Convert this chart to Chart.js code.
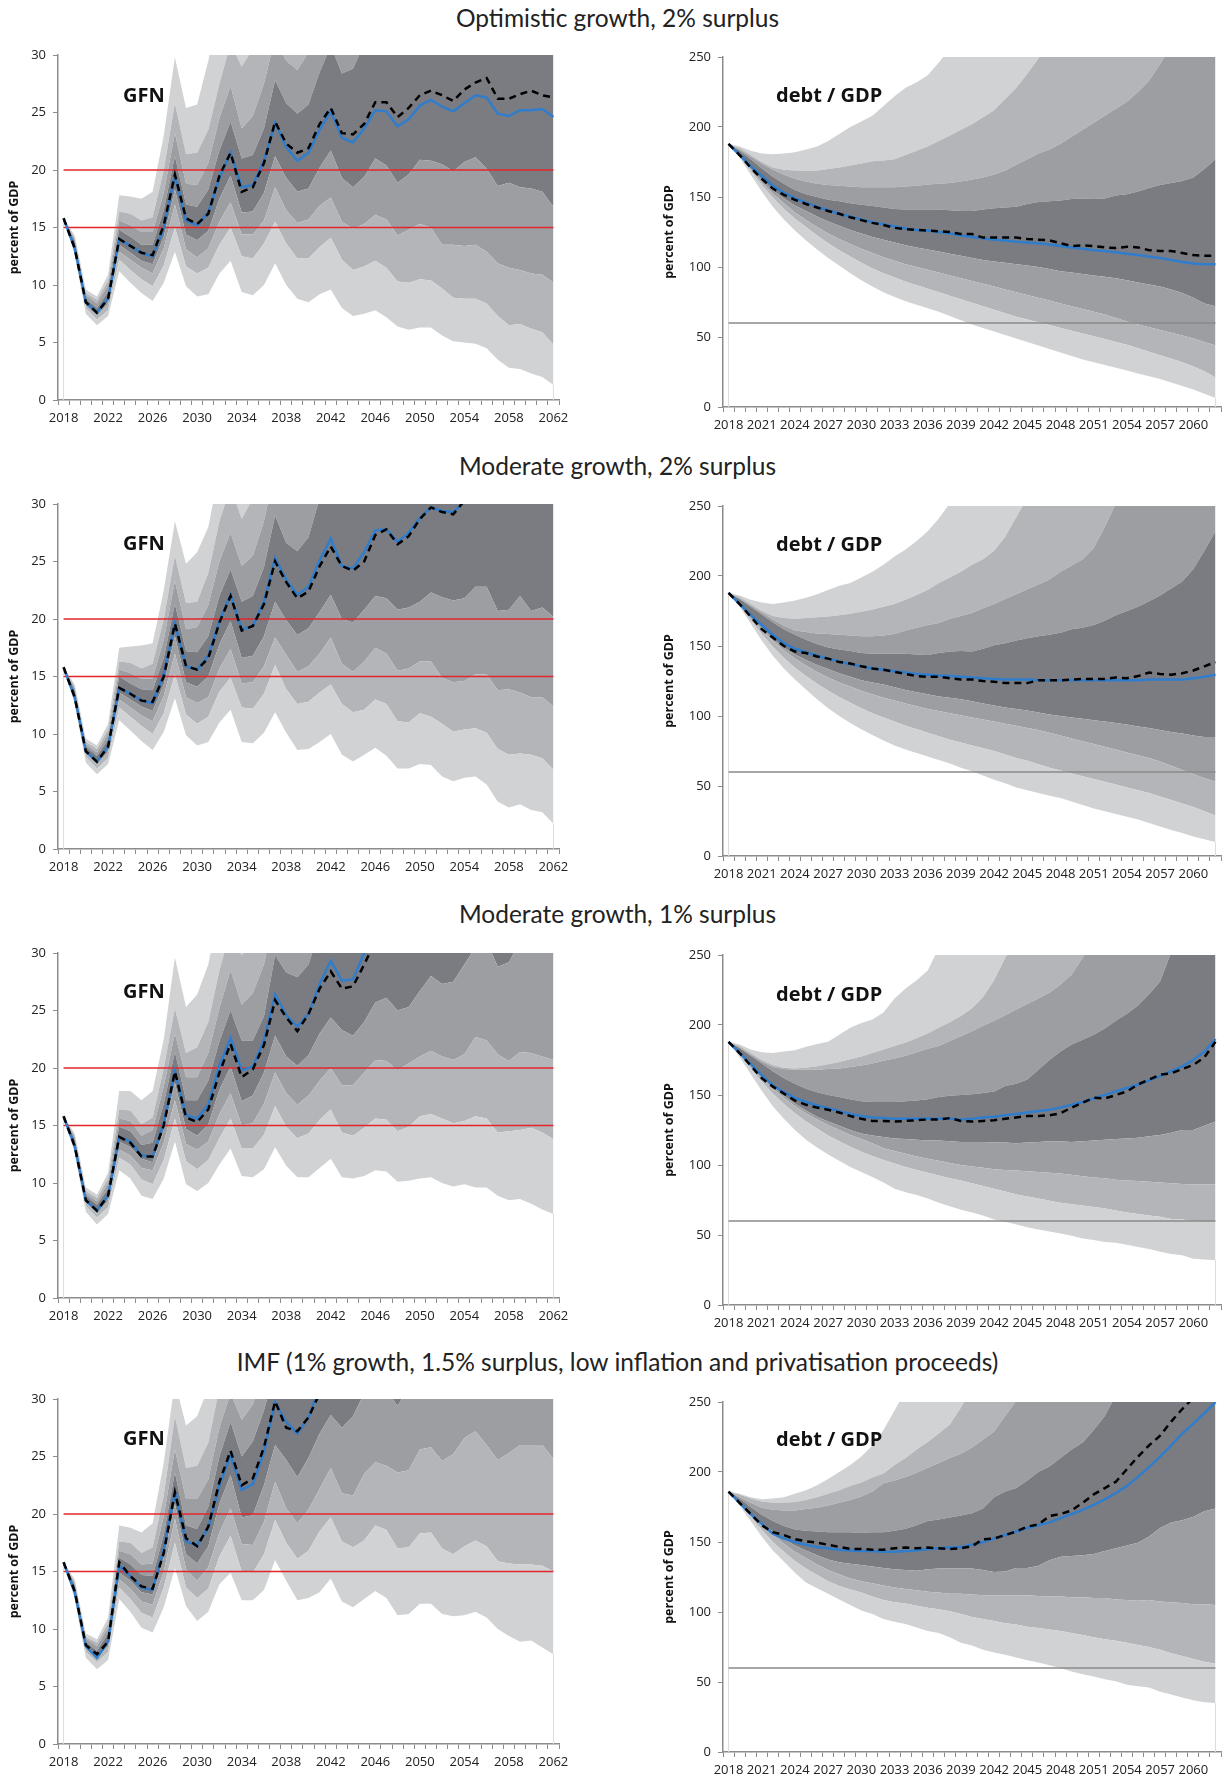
<!DOCTYPE html>
<html>
<head>
<meta charset="utf-8">
<script src="https://cdn.jsdelivr.net/npm/chart.js@4.4.1/dist/chart.umd.min.js"></script>
<style>
  html, body { margin: 0; padding: 0; background: #fff; }
  #page { position: relative; width: 1225px; height: 1778px; overflow: hidden; background: #fff; }
  .title { position: absolute; left: 5px; width: 1225px; text-align: center; font-family: 'Lato', sans-serif;
           font-size: 24.5px; color: #222; height: 30px; line-height: 30px; }
  .tag { position: absolute; font-family: 'Open Sans', sans-serif; font-weight: 700; font-size: 20px;
         color: #111; line-height: 24px; white-space: nowrap; }
  canvas { position: absolute; }
</style>
</head>
<body>
<div id="page">
  <div class="title" style="top:3px">Optimistic growth, 2% surplus</div>
  <div class="title" style="top:451px">Moderate growth, 2% surplus</div>
  <div class="title" style="top:899px">Moderate growth, 1% surplus</div>
  <div class="title" style="top:1347px">IMF (1% growth, 1.5% surplus, low inflation and privatisation proceeds)</div>

  <canvas id="gfn1" width="579" height="391" style="left:0;top:35px"></canvas>
  <canvas id="debt1" width="570" height="396" style="left:655px;top:37px"></canvas>
  <canvas id="gfn2" width="579" height="391" style="left:0;top:484px"></canvas>
  <canvas id="debt2" width="570" height="396" style="left:655px;top:486px"></canvas>
  <canvas id="gfn3" width="579" height="391" style="left:0;top:933px"></canvas>
  <canvas id="debt3" width="570" height="396" style="left:655px;top:935px"></canvas>
  <canvas id="gfn4" width="579" height="391" style="left:0;top:1379px"></canvas>
  <canvas id="debt4" width="570" height="396" style="left:655px;top:1382px"></canvas>

  <div class="tag" style="left:123px;top:83px">GFN</div>
  <div class="tag" style="left:776px;top:83px">debt / GDP</div>
  <div class="tag" style="left:123px;top:531px">GFN</div>
  <div class="tag" style="left:776px;top:532px">debt / GDP</div>
  <div class="tag" style="left:123px;top:979px">GFN</div>
  <div class="tag" style="left:776px;top:982px">debt / GDP</div>
  <div class="tag" style="left:123px;top:1426px">GFN</div>
  <div class="tag" style="left:776px;top:1427px">debt / GDP</div>
</div>

<script>
// 年
var years = [2018, 2019, 2020, 2021, 2022, 2023, 2024, 2025, 2026, 2027,
  2028, 2029, 2030, 2031, 2032, 2033, 2034, 2035, 2036, 2037,
  2038, 2039, 2040, 2041, 2042, 2043, 2044, 2045, 2046, 2047,
  2048, 2049, 2050, 2051, 2052, 2053, 2054, 2055, 2056, 2057,
  2058, 2059, 2060, 2061, 2062];

// 参照線
var gfnLimits = [15, 20];
var debtLimit = 60;

// ---------- Optimistic growth, 2% surplus : GFN ----------
var optGfnLine = [15.8, 13.2, 8.5, 7.6, 8.8,
  14.0, 13.4, 12.8, 12.5, 15.0,
  19.5, 15.6, 15.2, 16.3, 19.3,
  21.5, 18.5, 18.7, 20.8, 24.1,
  22.0, 20.8, 21.5, 23.5, 25.1,
  22.8, 22.4, 23.6, 25.2, 25.1,
  23.8, 24.4, 25.6, 26.1, 25.5,
  25.1, 25.8, 26.5, 26.3, 24.9,
  24.7, 25.2, 25.2, 25.3, 24.6];
var optGfnDash = [15.8, 13.2, 8.5, 7.6, 8.8,
  14.0, 13.4, 12.8, 12.6, 15.2,
  19.6, 15.8, 15.3, 16.2, 19.5,
  21.5, 18.1, 18.5, 20.6, 24.2,
  22.3, 21.5, 21.9, 24.0, 25.4,
  23.2, 23.1, 24.0, 25.9, 25.9,
  24.6, 25.4, 26.5, 26.9, 26.5,
  26.0, 27.0, 27.6, 28.0, 26.2,
  26.2, 26.6, 26.9, 26.5, 26.3];
var optGfn10 = [15.8, 12.6, 7.5, 6.5, 7.3,
  11.2, 10.2, 9.3, 8.6, 10.2,
  12.9, 9.9, 9.0, 9.2, 11.0,
  12.1, 9.4, 9.1, 10.0, 11.9,
  10.0, 8.8, 8.5, 9.2, 9.6,
  8.0, 7.3, 7.5, 7.8, 7.2,
  6.4, 6.1, 6.3, 6.3, 5.6,
  5.1, 5.0, 4.9, 4.5, 3.5,
  2.8, 2.7, 2.3, 2.0, 1.3];
var optGfn20 = [15.8, 13.0, 8.0, 7.0, 7.8,
  12.2, 11.3, 10.5, 9.9, 11.7,
  15.0, 11.6, 11.0, 11.5, 13.5,
  15.0, 12.5, 12.3, 13.6, 15.5,
  13.6, 12.3, 12.3, 13.3, 14.1,
  12.2, 11.3, 11.6, 12.1, 11.5,
  10.3, 10.2, 10.5, 10.4, 9.7,
  8.9, 8.8, 8.8, 8.4, 7.3,
  6.5, 6.6, 6.2, 5.9, 4.8];
var optGfn30 = [15.8, 13.2, 8.2, 7.3, 8.3,
  12.9, 12.2, 11.5, 11.0, 13.2,
  17.0, 13.1, 12.4, 13.2, 15.5,
  17.2, 14.4, 14.4, 15.6, 18.5,
  16.5, 15.4, 15.7, 16.9, 17.6,
  15.5, 14.9, 15.3, 16.1, 15.7,
  14.3, 14.8, 15.3, 15.0, 13.5,
  13.5, 13.4, 13.5, 12.9, 11.9,
  11.5, 11.3, 11.0, 10.9, 10.2];
var optGfn40 = [15.8, 13.4, 8.4, 7.5, 8.6,
  13.5, 12.8, 12.1, 11.8, 14.2,
  18.3, 14.4, 13.9, 14.7, 17.5,
  19.5, 16.3, 16.4, 18.0, 21.2,
  19.3, 18.1, 18.4, 20.2, 21.7,
  19.3, 18.5, 19.4, 21.0, 20.4,
  18.9, 19.6, 20.9, 20.8, 20.5,
  19.9, 20.7, 21.1, 20.1, 18.6,
  18.9, 18.5, 18.4, 18.1, 16.8];
var optGfn60 = [15.8, 13.8, 8.8, 8.0, 9.4,
  14.8, 14.2, 13.5, 13.5, 16.5,
  21.2, 17.0, 16.8, 18.3, 21.7,
  24.2, 21.0, 21.3, 23.6, 27.8,
  25.8, 24.9, 25.7, 28.5, 30.8,
  28.4, 28.8, 31.0, 32.5, 32.8,
  32.0, 33.0, 34.2, 34.8, 34.5,
  34.3, 35.0, 35.8, 35.4, 34.5,
  34.8, 35.2, 35.5, 35.6, 35.2];
var optGfn70 = [15.8, 14.0, 9.1, 8.4, 10.0,
  15.6, 15.2, 14.6, 14.6, 18.0,
  23.2, 18.8, 18.7, 20.6, 24.5,
  27.3, 23.6, 24.7, 27.5, 31.5,
  29.5, 28.7, 30.2, 33.0, 35.0,
  32.5, 32.8, 34.6, 36.5, 36.8,
  36.0, 37.0, 38.4, 39.0, 38.6,
  38.5, 39.3, 40.1, 39.8, 38.9,
  39.2, 39.6, 40.0, 40.2, 39.8];
var optGfn80 = [15.8, 14.1, 9.3, 8.7, 10.4,
  16.4, 16.2, 15.6, 15.9, 20.0,
  25.8, 21.4, 21.5, 23.5, 27.5,
  31.0, 29.0, 30.5, 33.0, 37.0,
  35.0, 34.5, 36.0, 38.5, 40.5,
  38.0, 38.5, 40.0, 42.0, 42.5,
  41.5, 42.5, 44.0, 44.5, 44.0,
  44.0, 45.0, 46.0, 45.5, 44.5,
  45.0, 45.5, 46.0, 46.2, 45.8];
var optGfn90 = [15.8, 14.3, 9.6, 9.0, 10.9,
  17.8, 17.7, 17.5, 18.1, 23.0,
  29.8, 25.4, 25.7, 29.5, 34.0,
  39.0, 36.0, 37.5, 40.0, 45.0,
  43.0, 42.0, 44.0, 47.0, 49.0,
  46.5, 47.0, 49.0, 51.0, 51.5,
  50.5, 51.5, 53.0, 54.0, 53.5,
  53.5, 54.5, 55.5, 55.0, 54.0,
  54.5, 55.0, 55.5, 56.0, 55.5];

// ---------- Optimistic growth, 2% surplus : debt / GDP ----------
var optDebtLine = [188, 180, 172, 165, 158,
  153, 149, 146, 143, 140.5,
  138, 136, 134, 132, 130.5,
  129, 127.5, 126.5, 126, 125,
  124, 122.5, 121.5, 120.5, 119.5,
  119, 118, 117.5, 117, 116,
  115, 114, 113, 112, 111.5,
  110.5, 109.5, 108.5, 107.5, 106.5,
  105, 103.5, 102.5, 102, 102];
var optDebtDash = [188, 180, 171, 163, 156,
  151.5, 148, 145, 142.5, 140,
  138, 135.5, 133.5, 131.5, 130,
  128, 127, 126.5, 126, 125.5,
  125, 123.5, 123.5, 121, 121,
  121, 121, 120, 119.5, 119,
  117, 115, 115.5, 115, 114,
  113.5, 114.5, 114, 112, 111.5,
  111.5, 110, 108.5, 108, 108];
var optDebt10 = [188, 178, 166, 154, 143,
  134, 126, 119, 112.5, 106.5,
  101, 95.5, 90.5, 86, 82,
  78.5, 75.5, 73, 70.5, 68,
  65, 62, 59, 56.5, 54,
  51.5, 49, 46.5, 44, 41.5,
  39, 36.5, 34, 32, 30,
  28, 26, 24, 22, 20,
  17.5, 15, 12.5, 9.5, 6.5];
var optDebt20 = [188, 178.5, 168.5, 158.5, 149.5,
  141.5, 134.5, 128.5, 122.5, 117,
  112, 107.5, 103, 99, 95.5,
  92.5, 89.5, 87, 84.5, 82,
  79.5, 77, 74.5, 72, 69.5,
  67, 64.5, 62.5, 60.5, 58.5,
  56.5, 54.5, 52.5, 50.5, 48.5,
  46.5, 44.5, 42, 39.5, 37,
  34.5, 32, 29, 25.5, 21];
var optDebt30 = [188, 179, 169.5, 160.5, 152.5,
  145.5, 139, 133.5, 128.5, 124,
  120, 116.5, 113, 110, 107,
  104.5, 102, 100, 98, 96,
  94, 92, 90, 88, 86,
  84, 82, 80, 78, 76,
  74, 72, 70, 68, 66,
  63.5, 61, 59, 57, 55,
  53, 51, 49, 46.5, 44];
var optDebt40 = [188, 179.5, 170.5, 162.5, 155,
  149, 144, 140, 136, 132.5,
  129.5, 126.5, 124, 121.5, 119.5,
  117.5, 115.5, 114, 112.5, 111,
  109.5, 108, 106.5, 105, 104,
  103, 102, 101, 100, 98.5,
  97, 96, 95, 94, 93,
  92, 90.5, 89, 87.5, 86,
  84, 81.5, 78, 74, 72];
var optDebt60 = [188, 183, 177, 170.5, 164.5,
  159.5, 155, 152, 150, 148,
  147, 145.5, 144.5, 143.5, 142.5,
  141.5, 141, 141, 141, 141,
  140.5, 140, 140, 141, 142,
  142.5, 143, 145, 146.5, 147,
  147.5, 148.5, 149, 148.5, 149,
  151, 152, 154, 156.5, 158.5,
  160, 161.5, 164, 170, 177];
var optDebt70 = [188, 184, 179, 174, 169.5,
  166, 163, 161, 159.5, 158.5,
  158, 157.5, 157, 157, 157,
  157, 157.5, 158, 159, 159.5,
  160, 161, 162.5, 164, 166,
  169, 173, 177, 181, 184,
  188, 193, 198, 203, 208,
  213, 218, 225, 233, 245,
  258, 272, 287, 305, 325];
var optDebt80 = [188, 185, 180, 175, 171,
  169.5, 169, 168.5, 169, 170,
  171, 172.5, 174, 175.5, 176,
  177, 180, 183, 186, 190,
  194, 198, 202, 207, 212,
  220, 228, 238, 249, 260,
  272, 285, 298, 312, 326,
  340, 354, 368, 382, 396,
  410, 424, 438, 452, 466];
var optDebt90 = [188, 186, 183, 181, 180.5,
  181, 182, 184, 186, 190,
  195, 200, 204, 208, 215,
  222, 228, 232, 237, 246,
  256, 266, 278, 290, 302,
  315, 328, 342, 356, 370,
  385, 400, 415, 430, 445,
  460, 475, 490, 505, 520,
  535, 550, 565, 580, 595];

// ---------- Moderate growth, 2% surplus : GFN ----------
var mod2GfnLine = [15.8, 13.2, 8.5, 7.6, 8.9,
  14.0, 13.5, 12.9, 12.7, 15.2,
  19.6, 15.9, 15.6, 16.8, 19.8,
  22.1, 19.1, 19.4, 21.5, 25.3,
  23.4, 22.1, 22.8, 25.1, 27.0,
  24.6, 24.4, 25.8, 27.7, 27.8,
  26.7, 27.5, 28.8, 29.7, 29.4,
  29.3, 30.2, 31.5, 32.2, 31.6,
  31.9, 32.6, 33.0, 33.3, 33.0];
var mod2GfnDash = [15.8, 13.2, 8.5, 7.6, 8.9,
  14.0, 13.5, 12.9, 12.8, 15.0,
  19.6, 15.9, 15.6, 16.6, 19.7,
  22.0, 19.0, 19.4, 21.3, 25.0,
  23.2, 21.8, 22.4, 24.6, 26.3,
  24.6, 24.2, 25.0, 27.3, 27.8,
  26.5, 27.2, 28.7, 29.7, 29.3,
  29.1, 30.3, 31.4, 32.0, 31.4,
  31.8, 32.4, 32.9, 33.2, 32.8];
var mod2Gfn10 = [15.8, 12.6, 7.5, 6.5, 7.4,
  11.2, 10.3, 9.4, 8.6, 10.2,
  13.1, 9.9, 9.0, 9.3, 11.0,
  12.1, 9.3, 9.2, 10.1, 11.9,
  10.1, 8.6, 8.7, 9.3, 10.0,
  8.2, 7.6, 8.2, 8.8, 8.1,
  7.0, 7.0, 7.4, 7.3, 6.3,
  5.9, 6.2, 6.3, 5.6, 4.1,
  3.6, 3.9, 3.4, 3.2, 2.2];
var mod2Gfn20 = [15.8, 13.0, 8.0, 7.0, 7.9,
  12.3, 11.5, 10.7, 10.0, 11.8,
  15.2, 11.7, 10.9, 11.5, 13.7,
  14.9, 12.3, 12.2, 13.5, 16.0,
  13.9, 12.6, 12.8, 13.6, 14.3,
  12.6, 11.9, 12.1, 13.0, 12.6,
  11.1, 11.0, 11.8, 11.5, 10.9,
  10.2, 10.4, 10.5, 10.1, 8.7,
  8.2, 8.3, 8.2, 7.9, 6.9];
var mod2Gfn30 = [15.8, 13.2, 8.3, 7.3, 8.4,
  13.0, 12.3, 11.6, 11.1, 13.3,
  17.0, 13.2, 12.7, 13.2, 15.7,
  17.4, 14.4, 14.5, 15.9, 18.4,
  16.9, 15.4, 15.9, 17.0, 18.4,
  16.1, 15.4, 16.3, 17.5, 17.0,
  15.5, 15.7, 16.3, 16.3, 14.9,
  14.5, 14.6, 15.2, 15.2, 13.8,
  13.9, 13.6, 13.2, 13.2, 12.4];
var mod2Gfn40 = [15.8, 13.4, 8.5, 7.6, 8.8,
  13.6, 13.0, 12.4, 12.0, 14.3,
  18.5, 14.5, 14.1, 15.0, 17.8,
  19.8, 16.6, 16.8, 18.5, 21.5,
  19.9, 18.6, 19.2, 20.6, 22.1,
  20.0, 19.7, 20.8, 22.0, 21.8,
  20.8, 21.0, 21.5, 22.3, 21.9,
  21.6, 21.8, 22.8, 22.8, 20.7,
  20.8, 22.0, 20.7, 21.0, 20.2];
var mod2Gfn60 = [15.8, 13.8, 8.9, 8.1, 9.5,
  15.0, 14.4, 13.9, 13.8, 16.6,
  21.3, 17.2, 17.1, 18.5, 22.0,
  24.3, 21.5, 22.0, 24.5, 29.0,
  26.6, 25.9, 27.1, 30.5, 32.5,
  31.0, 31.5, 33.0, 35.0, 35.5,
  34.5, 35.5, 37.0, 38.0, 37.5,
  37.5, 38.5, 39.5, 39.0, 38.0,
  38.5, 39.0, 39.5, 39.8, 39.5];
var mod2Gfn70 = [15.8, 14.0, 9.1, 8.4, 10.0,
  15.6, 15.3, 14.8, 14.8, 18.2,
  23.3, 19.1, 19.3, 21.2, 25.0,
  27.5, 24.6, 25.5, 28.5, 33.0,
  31.0, 30.5, 32.0, 35.5, 37.5,
  36.0, 36.5, 38.0, 40.0, 40.5,
  39.5, 40.5, 42.0, 43.0, 42.5,
  42.5, 43.5, 44.5, 44.0, 43.0,
  43.5, 44.0, 44.5, 44.8, 44.5];
var mod2Gfn80 = [15.8, 14.1, 9.3, 8.7, 10.4,
  16.3, 16.2, 15.7, 16.1, 20.0,
  25.5, 21.4, 21.5, 24.0, 28.5,
  31.5, 28.7, 30.5, 34.0, 38.5,
  36.5, 36.0, 37.5, 41.0, 43.0,
  41.5, 42.0, 43.5, 45.5, 46.0,
  45.0, 46.0, 47.5, 48.5, 48.0,
  48.0, 49.0, 50.0, 49.5, 48.5,
  49.0, 49.5, 50.0, 50.3, 50.0];
var mod2Gfn90 = [15.8, 14.3, 9.6, 9.0, 10.9,
  17.5, 17.6, 17.7, 17.9, 22.5,
  28.5, 24.8, 25.8, 28.0, 33.0,
  37.0, 35.0, 36.5, 40.0, 44.5,
  42.5, 42.0, 43.5, 47.0, 49.0,
  47.5, 48.0, 49.5, 51.5, 52.0,
  51.0, 52.0, 53.5, 54.5, 54.0,
  54.0, 55.0, 56.0, 55.5, 54.5,
  55.0, 55.5, 56.0, 56.3, 56.0];

// ---------- Moderate growth, 2% surplus : debt / GDP ----------
var mod2DebtLine = [188, 180, 172, 165, 158,
  152, 148, 145.5, 143, 141,
  139, 137, 135.5, 134, 133,
  132, 131, 130, 129.5, 129,
  128.5, 128, 127.5, 127, 126.5,
  126, 126, 126, 125.5, 125.5,
  125.5, 125.5, 125.5, 125.5, 125.5,
  125.5, 125.5, 125.5, 126, 126,
  126, 126, 127, 128, 129.5];
var mod2DebtDash = [188, 180, 171, 162, 156,
  150, 146, 145, 142.5, 141,
  138.5, 137.5, 135.5, 134, 133,
  131.5, 130, 128.5, 128, 128,
  127, 126, 126, 125, 124.5,
  123.5, 123.5, 123.5, 125.5, 125.5,
  125.5, 126, 126.5, 126.5, 126.5,
  127.5, 127, 128.5, 131, 130,
  129.5, 130.5, 132.5, 135.5, 138.5];
var mod2Debt10 = [188, 178, 166, 154, 143,
  134, 126, 119, 112, 105.5,
  100, 95, 90.5, 86.5, 82.5,
  79, 76, 73.5, 71, 68.5,
  66, 63, 60.5, 57.5, 54.5,
  52, 49, 47, 45, 43,
  41.5, 39, 36.5, 34, 32,
  30, 28, 26, 23.5, 21,
  18.5, 16.5, 14, 12, 10];
var mod2Debt20 = [188, 178.5, 168.5, 158.5, 149.5,
  141.5, 134.5, 128.5, 123, 118,
  113.5, 109.5, 105.5, 102, 99,
  96, 93, 90.5, 88, 85.5,
  83, 81, 79, 77, 75,
  72.5, 70, 68, 65.5, 63,
  61, 59, 57, 55, 53,
  51, 49, 47, 45, 42.5,
  40, 37.5, 35, 32, 29];
var mod2Debt30 = [188, 179, 170, 161.5, 154,
  147, 141, 136, 131.5, 127.5,
  124, 121, 118, 115.5, 113,
  111, 109, 107, 105, 103.5,
  102, 100.5, 99, 97.5, 96,
  94.5, 93, 91.5, 90, 88,
  86, 84, 82, 80, 78,
  76, 74, 72, 70, 67.5,
  64.5, 61.5, 58.5, 55.5, 53];
var mod2Debt40 = [188, 179.5, 171.5, 163.5, 155,
  149, 144, 140, 136.5, 133.5,
  130.5, 128, 125.5, 124, 122.5,
  120.5, 118.5, 117, 115.5, 114,
  113, 112, 110.5, 109, 107.5,
  106, 105, 104, 102.5, 101,
  100, 99, 98, 97, 96,
  95, 94, 92.5, 91.5, 90,
  88.5, 87.5, 86, 85, 85];
var mod2Debt60 = [188, 183.5, 178, 172.5, 167,
  162, 158, 154.5, 151.5, 149,
  147.5, 146.5, 145, 144.5, 144.5,
  144.5, 144.5, 144, 143.5, 145,
  146, 146.5, 146, 148, 150.5,
  152, 154, 155.5, 157, 158,
  159.5, 162, 163, 165, 168,
  172, 175, 178, 182, 186,
  191, 196, 205, 218, 232];
var mod2Debt70 = [188, 184, 179, 174, 169,
  164.5, 161, 160, 159, 158.5,
  158, 157.5, 157, 157, 157.5,
  158.5, 161, 163, 165, 166.5,
  169.5, 171.5, 173.5, 177, 180,
  183.5, 187, 190.5, 194, 197.5,
  203, 207.5, 212, 220, 235,
  252, 268, 285, 300, 318,
  335, 355, 375, 395, 415];
var mod2Debt80 = [188, 185, 180, 175, 171.5,
  170, 169.5, 170, 170.5, 171,
  172, 173, 174.5, 176, 178,
  180, 183, 186.5, 190, 195,
  199, 203, 208, 212, 218,
  228, 242, 256, 270, 285,
  300, 315, 330, 345, 360,
  375, 390, 405, 420, 435,
  450, 465, 480, 495, 510];
var mod2Debt90 = [188, 186, 183, 181, 180,
  181, 182.5, 184.5, 187, 190,
  193, 195, 199, 203, 208,
  214, 219, 225, 232, 241,
  252, 264, 278, 292, 306,
  320, 335, 350, 365, 380,
  395, 410, 425, 440, 455,
  470, 485, 500, 515, 530,
  545, 560, 575, 590, 605];

// ---------- Moderate growth, 1% surplus : GFN ----------
var mod1GfnLine = [15.8, 13.2, 8.5, 7.6, 8.9,
  14.0, 13.6, 12.4, 12.3, 15.2,
  19.7, 15.9, 15.6, 16.8, 20.2,
  22.6, 19.8, 20.1, 22.4, 26.4,
  24.6, 23.6, 24.7, 27.3, 29.3,
  27.6, 27.7, 30.0, 32.0, 32.5,
  32.0, 32.8, 34.0, 35.0, 34.6,
  34.5, 35.5, 36.8, 37.0, 36.2,
  36.5, 37.4, 38.0, 38.4, 38.2];
var mod1GfnDash = [15.8, 13.2, 8.5, 7.6, 8.9,
  14.0, 13.5, 12.3, 12.3, 15.0,
  19.7, 15.7, 15.3, 16.4, 19.6,
  22.1, 19.2, 19.9, 22.0, 25.9,
  24.4, 23.2, 24.7, 26.9, 28.4,
  26.9, 27.1, 29.0, 31.0, 31.6,
  31.0, 31.8, 33.0, 34.0, 33.6,
  33.5, 34.5, 35.8, 36.0, 35.2,
  35.5, 36.4, 37.0, 37.4, 37.2];
var mod1Gfn10 = [15.8, 12.6, 7.5, 6.4, 7.3,
  11.1, 10.4, 8.9, 8.6, 10.4,
  13.6, 9.9, 9.3, 10.0, 11.6,
  13.0, 10.6, 10.5, 11.2, 13.1,
  11.5, 10.5, 10.5, 11.3, 12.1,
  10.5, 10.4, 10.6, 11.1, 11.0,
  10.1, 10.2, 10.4, 10.5, 10.0,
  9.7, 9.9, 9.6, 9.6, 8.9,
  8.5, 8.6, 8.2, 7.7, 7.3];
var mod1Gfn20 = [15.8, 13.0, 8.0, 7.0, 7.9,
  12.2, 11.6, 10.3, 9.9, 12.0,
  15.6, 11.9, 11.2, 12.0, 13.9,
  15.6, 13.0, 13.0, 14.2, 16.7,
  14.9, 13.9, 14.3, 15.5, 16.4,
  14.4, 14.1, 14.8, 15.6, 15.5,
  14.5, 14.9, 15.8, 16.0, 15.6,
  15.2, 15.4, 15.8, 15.6, 14.4,
  14.5, 14.6, 14.8, 14.4, 13.8];
var mod1Gfn30 = [15.8, 13.2, 8.3, 7.3, 8.4,
  12.9, 12.4, 11.3, 11.1, 13.5,
  17.2, 13.4, 12.9, 13.6, 16.0,
  17.8, 15.0, 15.2, 16.9, 19.6,
  17.8, 16.8, 17.6, 18.9, 20.0,
  18.5, 18.5, 19.6, 20.7, 20.6,
  19.8, 20.4, 21.0, 21.5, 21.0,
  20.7, 21.2, 22.7, 22.4, 21.2,
  20.6, 21.4, 21.3, 21.0, 20.7];
var mod1Gfn40 = [15.8, 13.4, 8.5, 7.6, 8.8,
  13.6, 13.1, 12.1, 11.8, 14.6,
  18.7, 14.7, 14.1, 15.1, 18.1,
  20.1, 17.1, 17.6, 19.6, 22.8,
  21.0, 20.2, 21.1, 23.0, 24.4,
  23.3, 22.8, 24.0, 25.7, 26.1,
  25.0, 25.3, 26.7, 28.0, 27.3,
  27.5, 29.0, 30.5, 31.0, 28.8,
  29.2, 31.0, 31.2, 31.5, 31.0];
var mod1Gfn60 = [15.8, 13.8, 8.9, 8.1, 9.5,
  14.9, 14.5, 13.3, 13.5, 16.9,
  21.4, 17.2, 17.2, 18.9, 22.3,
  25.0, 22.4, 22.4, 24.5, 29.8,
  28.3, 27.9, 29.0, 32.0, 33.5,
  32.5, 33.0, 34.5, 36.5, 37.0,
  36.0, 37.0, 38.5, 39.5, 39.0,
  39.0, 40.0, 41.5, 41.0, 40.0,
  40.5, 41.0, 41.5, 42.0, 41.5];
var mod1Gfn70 = [15.8, 14.0, 9.1, 8.4, 10.0,
  15.6, 15.4, 14.1, 14.6, 18.4,
  23.0, 19.2, 19.2, 21.3, 25.2,
  28.5, 25.5, 26.5, 29.0, 33.5,
  32.0, 31.5, 33.0, 36.5, 38.0,
  37.0, 37.5, 39.0, 41.0, 41.5,
  40.5, 41.5, 43.0, 44.0, 43.5,
  43.5, 44.5, 46.0, 45.5, 44.5,
  45.0, 45.5, 46.0, 46.5, 46.0];
var mod1Gfn80 = [15.8, 14.1, 9.3, 8.7, 10.4,
  16.4, 16.3, 15.1, 15.7, 20.0,
  25.2, 21.3, 21.8, 24.0, 28.5,
  32.0, 29.8, 31.0, 34.5, 39.0,
  37.5, 37.0, 38.5, 42.0, 43.5,
  42.5, 43.0, 44.5, 46.5, 47.0,
  46.0, 47.0, 48.5, 49.5, 49.0,
  49.0, 50.0, 51.5, 51.0, 50.0,
  50.5, 51.0, 51.5, 52.0, 51.5];
var mod1Gfn90 = [15.8, 14.3, 9.6, 9.0, 10.9,
  18.0, 18.0, 17.2, 18.0, 22.5,
  29.6, 25.3, 26.4, 29.0, 34.0,
  38.0, 36.5, 38.0, 41.0, 45.5,
  44.0, 43.5, 45.0, 48.5, 50.0,
  49.0, 49.5, 51.0, 53.0, 53.5,
  52.5, 53.5, 55.0, 56.0, 55.5,
  55.5, 56.5, 58.0, 57.5, 56.5,
  57.0, 57.5, 58.0, 58.5, 58.0];

// ---------- Moderate growth, 1% surplus : debt / GDP ----------
var mod1DebtLine = [188, 180, 172, 164, 157,
  152, 148, 145, 142.5, 140.5,
  138.5, 136.5, 135, 134, 133.5,
  133, 133, 133, 133, 133,
  133, 132.5, 133, 134, 134.5,
  135.5, 136.5, 137.5, 138.5, 139.5,
  141, 143, 145, 147.5, 150,
  152.5, 155, 157.5, 160.5, 163.5,
  167, 170.5, 175, 181, 190];
var mod1DebtDash = [188, 180, 171, 162, 156,
  151, 146, 143, 141, 139.5,
  137.5, 135, 133, 131.5, 131.5,
  131, 131.5, 132, 132.5, 132.5,
  133.5, 131.5, 131, 131.5, 132,
  133, 134, 135, 135, 135.5,
  137, 141, 144.5, 148, 147.5,
  150, 152.5, 157.5, 161, 164.5,
  165.5, 168.5, 171.5, 177, 188];
var mod1Debt10 = [188, 177, 165, 153, 142,
  133, 125, 118, 112.5, 107.5,
  103, 98.5, 95, 91.5, 87.5,
  83, 80.5, 78.5, 76, 73,
  70.5, 68, 66, 64, 61,
  59.5, 57.5, 55.5, 54, 52.5,
  51, 49.5, 47.5, 46.5, 45,
  44.5, 43, 41.5, 40, 38,
  36.5, 35.5, 33, 32.5, 32];
var mod1Debt20 = [188, 178.5, 169, 159.5, 151,
  143.5, 137, 131, 126, 121,
  117, 113, 109.5, 106.5, 103.5,
  101, 98.5, 96.5, 94.5, 92.5,
  90.5, 89, 87, 85, 83,
  81, 79, 77.5, 76, 74.5,
  73, 72, 71, 70, 69,
  67.5, 66, 65, 64, 63,
  61.5, 61, 60, 59.5, 59.5];
var mod1Debt30 = [188, 179, 170.5, 162, 154.5,
  148, 142, 137, 132.5, 128.5,
  125, 121.5, 118.5, 115.5, 112,
  110, 108, 106, 104.5, 103,
  101.5, 100, 99, 98, 97,
  96.5, 96, 95.5, 95, 94.5,
  94, 93, 92, 91, 90.5,
  89.5, 89, 88.5, 88, 87.5,
  87, 86.5, 86, 86, 86];
var mod1Debt40 = [188, 179.5, 171.5, 163, 156,
  149.5, 144, 139, 134.5, 131,
  128, 125, 122.5, 121, 120,
  119, 118.5, 118, 117.5, 117.5,
  117, 116.5, 116.5, 116.5, 116,
  116, 115.5, 116, 116.5, 117,
  117, 116.5, 117, 117.5, 118,
  118.5, 119, 119.5, 120.5, 121.5,
  123, 125, 125, 128, 131];
var mod1Debt60 = [188, 183.5, 178, 172.5, 167,
  162, 158, 154.5, 152, 150,
  148.5, 147, 145.5, 145, 145,
  145, 145.5, 146, 147, 148.5,
  149.5, 150, 150.5, 151.5, 152.5,
  156.5, 158, 161, 168, 175,
  181, 186, 189.5, 193, 197.5,
  203, 208, 214, 222, 231,
  252, 268, 285, 300, 320];
var mod1Debt70 = [188, 184, 179, 174, 170,
  168.5, 168, 168, 168, 168.5,
  169, 170, 171, 172.5, 174.5,
  176, 178, 180.5, 183, 185,
  188.5, 192, 195.5, 199.5, 203,
  207, 211, 215, 219, 223,
  229, 236, 248, 262, 276,
  290, 305, 320, 335, 350,
  365, 380, 395, 410, 425];
var mod1Debt80 = [188, 185, 180, 175, 171.5,
  169.5, 169, 169.5, 170.5, 172,
  173.5, 175.5, 177.5, 180, 182.5,
  185, 187.5, 190.5, 194, 198,
  202, 206.5, 212, 220, 232,
  248, 262, 276, 290, 305,
  320, 335, 350, 365, 380,
  395, 410, 425, 440, 455,
  470, 485, 500, 515, 530];
var mod1Debt90 = [188, 186, 182.5, 180.5, 180,
  181, 182, 184.5, 186.5, 188,
  193, 198, 201.5, 204, 209,
  219, 226, 232, 239, 255,
  268, 282, 296, 310, 325,
  340, 355, 370, 385, 400,
  415, 430, 445, 460, 475,
  490, 505, 520, 535, 550,
  565, 580, 595, 610, 625];

// ---------- IMF : GFN ----------
var imfGfnLine = [15.8, 13.2, 8.5, 7.5, 8.9,
  15.5, 14.6, 13.6, 13.4, 16.9,
  21.9, 17.6, 17.3, 18.8, 22.5,
  25.1, 22.1, 22.6, 25.4, 29.7,
  28.0, 27.0, 28.4, 31.0, 32.5,
  31.5, 32.0, 33.5, 35.5, 36.0,
  35.0, 36.0, 37.5, 38.5, 38.0,
  38.0, 39.0, 40.5, 40.0, 39.0,
  39.5, 40.0, 40.5, 41.0, 40.5];
var imfGfnDash = [15.8, 13.3, 8.6, 7.8, 8.9,
  15.8, 14.6, 13.7, 13.5, 16.6,
  21.9, 17.9, 17.2, 18.9, 22.8,
  25.5, 22.5, 23.1, 25.8, 29.8,
  27.5, 27.2, 28.4, 30.5, 32.0,
  31.0, 31.5, 33.0, 35.0, 35.5,
  34.5, 35.5, 37.0, 38.0, 37.5,
  37.5, 38.5, 40.0, 39.5, 38.5,
  39.0, 39.5, 40.0, 40.5, 40.0];
var imfGfn10 = [15.8, 12.6, 7.5, 6.5, 7.3,
  12.6, 11.5, 10.1, 9.7, 11.9,
  15.3, 12.0, 10.7, 11.5, 13.9,
  14.9, 12.5, 12.5, 13.4, 16.0,
  14.2, 12.5, 12.7, 13.2, 14.4,
  12.4, 11.9, 12.6, 13.3, 12.7,
  11.2, 11.3, 12.2, 12.2, 11.3,
  11.1, 11.2, 11.5, 11.0, 10.0,
  9.4, 8.9, 9.0, 8.4, 7.8];
var imfGfn20 = [15.8, 13.0, 8.0, 7.1, 8.0,
  13.6, 12.6, 11.4, 11.0, 13.6,
  17.5, 13.6, 12.7, 13.5, 16.3,
  18.1, 15.0, 14.9, 16.5, 19.5,
  17.5, 16.1, 16.8, 18.5, 19.7,
  17.6, 17.1, 17.7, 19.0, 18.6,
  17.0, 17.1, 18.3, 18.4, 17.0,
  16.5, 17.2, 17.7, 17.2, 15.9,
  15.7, 15.6, 15.6, 15.5, 15.0];
var imfGfn30 = [15.8, 13.2, 8.3, 7.4, 8.5,
  14.3, 13.5, 12.4, 12.1, 15.0,
  19.6, 15.2, 14.2, 15.4, 18.4,
  20.5, 17.4, 17.3, 19.3, 22.8,
  20.5, 19.2, 20.4, 22.2, 24.0,
  21.8, 21.6, 23.5, 24.5, 24.2,
  23.6, 23.8, 25.6, 25.8, 24.6,
  25.2, 26.6, 27.2, 26.0, 24.7,
  25.3, 26.0, 26.0, 26.0, 24.8];
var imfGfn40 = [15.8, 13.4, 8.5, 7.7, 8.9,
  14.9, 14.2, 13.2, 13.0, 16.2,
  20.9, 16.5, 15.7, 17.2, 20.9,
  23.4, 19.7, 19.9, 22.5, 26.0,
  24.7, 23.2, 24.9, 27.0, 28.6,
  27.5, 28.5, 30.5, 31.5, 30.8,
  29.4, 31.0, 32.0, 32.5, 32.5,
  32.5, 33.0, 33.5, 33.5, 33.0,
  33.0, 33.5, 33.5, 33.8, 33.5];
var imfGfn60 = [15.8, 13.8, 8.9, 8.1, 9.6,
  16.2, 15.6, 14.7, 14.6, 18.2,
  23.6, 19.0, 18.7, 20.6, 25.0,
  28.0, 25.0, 26.3, 29.0, 32.5,
  31.0, 30.5, 32.0, 35.0, 36.5,
  35.5, 36.0, 38.0, 39.5, 39.0,
  38.0, 39.0, 40.5, 41.0, 41.0,
  41.0, 42.0, 42.5, 42.0, 41.5,
  41.5, 42.0, 42.5, 42.8, 42.5];
var imfGfn70 = [15.8, 14.0, 9.2, 8.5, 10.1,
  16.8, 16.5, 15.6, 15.7, 19.8,
  25.6, 21.3, 21.3, 23.0, 27.5,
  30.5, 28.2, 29.5, 32.5, 36.5,
  35.0, 34.5, 36.0, 39.0, 40.5,
  39.5, 40.0, 42.0, 43.5, 43.0,
  42.0, 43.0, 44.5, 45.0, 45.0,
  45.0, 46.0, 46.5, 46.0, 45.5,
  45.5, 46.0, 46.5, 46.8, 46.5];
var imfGfn80 = [15.8, 14.1, 9.3, 8.8, 10.5,
  17.6, 17.5, 16.6, 17.1, 21.6,
  28.5, 24.0, 24.2, 26.2, 31.0,
  34.0, 32.0, 33.5, 37.0, 41.0,
  39.5, 39.0, 40.5, 43.5, 45.0,
  44.0, 44.5, 46.5, 48.0, 47.5,
  46.5, 47.5, 49.0, 49.5, 49.5,
  49.5, 50.5, 51.0, 50.5, 50.0,
  50.0, 50.5, 51.0, 51.3, 51.0];
var imfGfn90 = [15.8, 14.3, 9.6, 9.1, 11.0,
  19.0, 18.8, 18.4, 19.2, 24.5,
  31.5, 27.7, 28.5, 31.0, 35.0,
  38.0, 36.0, 37.5, 41.0, 45.0,
  43.5, 43.0, 44.5, 47.5, 49.0,
  48.0, 48.5, 50.5, 52.0, 51.5,
  50.5, 51.5, 53.0, 53.5, 53.5,
  53.5, 54.5, 55.0, 54.5, 54.0,
  54.0, 54.5, 55.0, 55.3, 55.0];

// ---------- IMF : debt / GDP ----------
var imfDebtLine = [186, 178, 170, 163, 156,
  152.5, 150, 148, 146.5, 145.5,
  144.5, 144, 143.5, 143.5, 143,
  143, 143.5, 144, 145, 145.5,
  146, 146.5, 148, 150, 152.5,
  155, 157.5, 160, 162, 164,
  167, 170, 173, 176.5, 180.5,
  185, 190, 196.5, 203.5, 211,
  219, 227.5, 234.5, 242, 250];
var imfDebtDash = [186, 178, 170, 162, 157,
  155, 152, 150.5, 149.5, 148,
  146.5, 145, 145, 144.5, 144.5,
  145.5, 146, 145.5, 146, 145.5,
  145, 145.5, 147, 152, 152.5,
  155, 157.5, 161, 162.5, 168.5,
  170, 172.5, 178, 184, 188.5,
  193, 202, 211, 219, 226,
  236, 245, 253, 260, 268];
var imfDebt10 = [186, 176, 165, 154, 144,
  136, 128, 121, 117, 113,
  109, 105, 101, 98.5, 95,
  93, 91.5, 89, 86.5, 85,
  82, 78, 76, 73, 71,
  69.5, 67.5, 65.5, 64, 62,
  60, 57.5, 55.5, 54, 52,
  50.5, 48, 47, 46, 43,
  41, 39, 37, 35.5, 35];
var imfDebt20 = [186, 177, 168, 158.5, 150,
  143, 136.5, 131, 126.5, 122,
  118.5, 116, 114, 111, 108.5,
  107, 106, 104.5, 103, 102,
  100.5, 98.5, 96.5, 95, 93.5,
  92, 91, 89.5, 88.5, 87.5,
  86.5, 85, 83.5, 82, 80.5,
  79.5, 78, 76.5, 75, 73,
  70.5, 68.5, 66.5, 64.5, 63];
var imfDebt30 = [186, 177.5, 170, 162, 155,
  149, 143, 138.5, 134, 130,
  127, 124, 122, 120.5, 119,
  117.5, 116.5, 115.5, 114.5, 114,
  113, 113, 112.5, 112, 112,
  112, 112, 112, 111.5, 111,
  111, 110.5, 110.5, 110, 110,
  109, 108.5, 108, 108.5, 107.5,
  107, 106.5, 105.5, 105.5, 105];
var imfDebt40 = [186, 178, 171, 164, 157.5,
  152, 147.5, 144, 140.5, 137.5,
  135.5, 134.5, 133.5, 132.5, 131.5,
  130.5, 130, 129.5, 130.5, 131,
  131, 131, 131, 130, 128.5,
  129, 131.5, 131.5, 133, 137,
  139.5, 140, 140.5, 141.5, 143.5,
  145.5, 147.5, 149.5, 154, 160,
  164, 165.5, 168, 172, 174];
var imfDebt60 = [186, 181, 175, 169.5, 165,
  161.5, 159, 158, 157.5, 157,
  157, 157, 156.5, 157, 157,
  158, 159.5, 162, 165, 166,
  167.5, 169, 170.5, 174, 182,
  186, 188.5, 194, 200, 204,
  210, 216, 221, 230, 240,
  255, 268, 282, 296, 310,
  325, 340, 355, 370, 385];
var imfDebt70 = [186, 182, 178, 174.5, 173,
  172.5, 172.5, 173.5, 174.5, 176,
  178, 180, 182.5, 186, 192,
  194, 196.5, 199.5, 203, 206.5,
  210, 213, 217.5, 223, 229,
  240, 251, 262, 274, 286,
  298, 310, 322, 334, 346,
  358, 370, 382, 394, 406,
  418, 430, 442, 454, 466];
var imfDebt80 = [186, 184, 181, 179, 178,
  178, 178.5, 180, 182, 184.5,
  187, 190, 192.5, 196, 199,
  205, 210, 216, 221.5, 227.5,
  234, 246, 260, 274, 288,
  302, 316, 330, 344, 358,
  372, 386, 400, 414, 428,
  442, 456, 470, 484, 498,
  512, 526, 540, 554, 568];
var imfDebt90 = [186, 184.5, 182, 180.5, 181,
  182, 184.5, 187, 190.5, 195,
  200, 205, 211, 219, 230,
  244, 258, 272, 286, 300,
  314, 328, 342, 356, 370,
  384, 398, 412, 426, 440,
  454, 468, 482, 496, 510,
  524, 538, 552, 566, 580,
  594, 608, 622, 636, 650];

// 色
var lightest = '#d1d2d4';
var light = '#b3b5b8';
var medium = '#9c9ea2';
var dark = '#7b7c81';
var axisGray = '#8c8c8c';

Chart.defaults.font.family = "'Open Sans', sans-serif";
Chart.defaults.color = '#222';

var labels = years.map(function(y) { return String(y); });
var firstYear = labels[0];
var lastYear = labels[labels.length - 1];

// チャートを作る
function makeChart(id, kind, bands, line, dash) {
    var gfn = kind === 'gfn';
    var fills = [null, lightest, light, medium, dark, medium, light, lightest];
    var sets = [];

    bands.forEach(function(d, i) {
        sets.push({
            data: d,
            fill: i === 0 ? false : '-1',
            backgroundColor: fills[i] || 'rgba(0,0,0,0)',
            borderWidth: 0,
            pointRadius: 0,
            order: 4
        });
    });

    // 端の縦線
    var bottom = bands[0];
    sets.push({ data: [{x: firstYear, y: 0}, {x: firstYear, y: bottom[0]}],
        borderColor: '#dcdcdc', borderWidth: 1, pointRadius: 0, fill: false, order: 5 });
    sets.push({ data: [{x: lastYear, y: 0}, {x: lastYear, y: bottom[bottom.length - 1]}],
        borderColor: '#dcdcdc', borderWidth: 1, pointRadius: 0, fill: false, order: 5 });

    // 参照線
    var refs = gfn ? gfnLimits : [debtLimit];
    refs.forEach(function(v) {
        sets.push({ data: [{x: firstYear, y: v}, {x: lastYear, y: v}],
            borderColor: gfn ? '#e3262b' : '#8a8a8a', borderWidth: 1.5,
            pointRadius: 0, fill: false, order: 2 });
    });

    sets.push({ data: line, borderColor: '#2f7dcc', borderWidth: 2.5,
        pointRadius: 0, fill: false, order: 1 });
    sets.push({ data: dash, borderColor: '#000', borderWidth: 2.5, borderDash: [7, 5],
        pointRadius: 0, fill: false, order: 0 });

    var step = gfn ? 4 : 3;
    var ctx = document.getElementById(id).getContext('2d');
    return new Chart(ctx, {
        type: 'line',
        data: { labels: labels, datasets: sets },
        options: {
            responsive: false,
            animation: false,
            layout: { padding: { top: 20, right: gfn ? 20 : 4, bottom: 0, left: 0 } },
            plugins: { legend: { display: false }, tooltip: { enabled: false } },
            elements: { line: { tension: 0 } },
            scales: {
                x: {
                    type: 'category',
                    offset: true,
                    grid: { display: true, offset: true, drawOnChartArea: false, drawTicks: true,
                            tickLength: 5, color: axisGray },
                    border: { display: true, color: axisGray, width: 1.5 },
                    ticks: {
                        autoSkip: false, maxRotation: 0, minRotation: 0, padding: 5,
                        font: { size: 13 }, color: '#222',
                        callback: function(v, i) { return i % step === 0 ? this.getLabelForValue(v) : ''; }
                    },
                    afterFit: function(s) { s.height = 26; }
                },
                y: {
                    min: 0,
                    max: gfn ? 30 : 250,
                    ticks: { stepSize: gfn ? 5 : 50, padding: 7, font: { size: 13 }, color: '#222' },
                    grid: { drawOnChartArea: false, drawTicks: true, tickLength: 5, color: axisGray },
                    border: { display: true, color: axisGray, width: 1.5 },
                    title: { display: true, text: 'percent of GDP', color: '#111',
                             font: { size: 12.5, weight: 'bold' }, padding: { top: 7, bottom: 0 } },
                    afterFit: function(s) { s.width = gfn ? 58 : 68; }
                }
            }
        }
    });
}

makeChart('gfn1', 'gfn', [optGfn10, optGfn20, optGfn30, optGfn40, optGfn60, optGfn70, optGfn80, optGfn90], optGfnLine, optGfnDash);
makeChart('debt1', 'debt', [optDebt10, optDebt20, optDebt30, optDebt40, optDebt60, optDebt70, optDebt80, optDebt90], optDebtLine, optDebtDash);
makeChart('gfn2', 'gfn', [mod2Gfn10, mod2Gfn20, mod2Gfn30, mod2Gfn40, mod2Gfn60, mod2Gfn70, mod2Gfn80, mod2Gfn90], mod2GfnLine, mod2GfnDash);
makeChart('debt2', 'debt', [mod2Debt10, mod2Debt20, mod2Debt30, mod2Debt40, mod2Debt60, mod2Debt70, mod2Debt80, mod2Debt90], mod2DebtLine, mod2DebtDash);
makeChart('gfn3', 'gfn', [mod1Gfn10, mod1Gfn20, mod1Gfn30, mod1Gfn40, mod1Gfn60, mod1Gfn70, mod1Gfn80, mod1Gfn90], mod1GfnLine, mod1GfnDash);
makeChart('debt3', 'debt', [mod1Debt10, mod1Debt20, mod1Debt30, mod1Debt40, mod1Debt60, mod1Debt70, mod1Debt80, mod1Debt90], mod1DebtLine, mod1DebtDash);
makeChart('gfn4', 'gfn', [imfGfn10, imfGfn20, imfGfn30, imfGfn40, imfGfn60, imfGfn70, imfGfn80, imfGfn90], imfGfnLine, imfGfnDash);
makeChart('debt4', 'debt', [imfDebt10, imfDebt20, imfDebt30, imfDebt40, imfDebt60, imfDebt70, imfDebt80, imfDebt90], imfDebtLine, imfDebtDash);

console.log("charts drawn");
</script>
</body>
</html>
